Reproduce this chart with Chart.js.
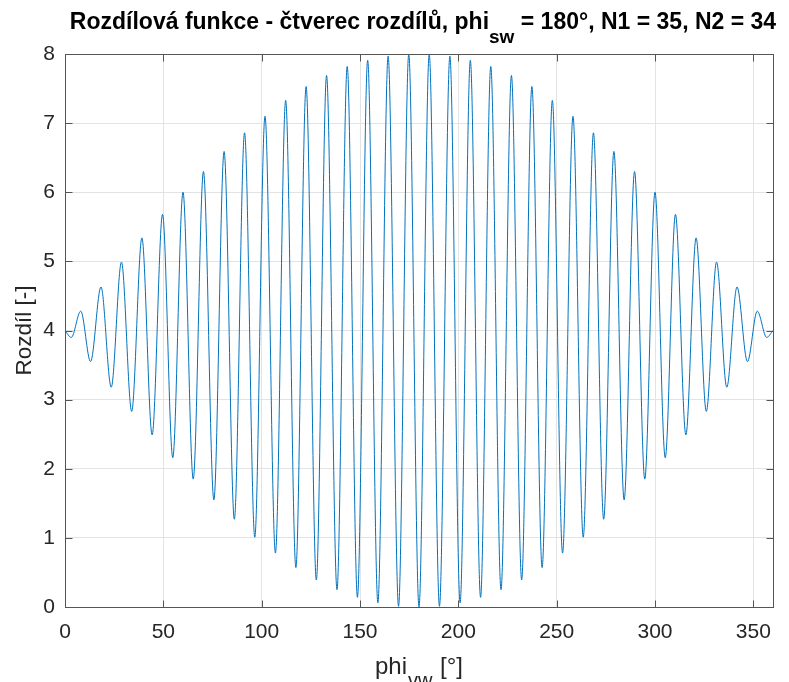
<!DOCTYPE html>
<html>
<head>
<meta charset="utf-8">
<script src="https://cdn.jsdelivr.net/npm/chart.js@4/dist/chart.umd.min.js"></script>
<style>
  body { margin: 0; background: #fff; }
</style>
</head>
<body>
<canvas id="rozdilChart" width="789" height="682"></canvas>
<script>
// extremes of the curve (phi_vw in degrees, value of the difference function)
const phiVw = [
    0, 3.2, 8.0, 13.0, 18.3, 23.5, 28.7, 33.9, 39.1, 44.3,
    49.6, 54.8, 60.0, 65.2, 70.4, 75.7, 80.9, 86.1, 91.3, 96.5,
    101.7, 107.0, 112.2, 117.4, 122.6, 127.8, 133.0, 138.3, 143.5, 148.7,
    153.9, 159.1, 164.3, 169.6, 174.8, 180.0,
    185.2, 190.4, 195.7, 200.9, 206.1, 211.3, 216.5, 221.7, 227.0, 232.2,
    237.4, 242.6, 247.8, 253.0, 258.3, 263.5, 268.7, 273.9, 279.1, 284.3,
    289.6, 294.8, 300.0, 305.2, 310.4, 315.7, 320.9, 326.1, 331.3, 336.5,
    341.7, 347.0, 352.0, 356.8, 360,
]
const rozdil = [
    4.00, 3.90, 4.28, 3.55, 4.63, 3.18, 4.99, 2.83, 5.34, 2.49,
    5.68, 2.16, 6.00, 1.85, 6.30, 1.55, 6.59, 1.27, 6.86, 1.01,
    7.10, 0.78, 7.33, 0.57, 7.53, 0.39, 7.69, 0.25, 7.82, 0.14,
    7.91, 0.06, 7.97, 0.01, 8.00, 0.00,
    8.00, 0.01, 7.97, 0.06, 7.91, 0.14, 7.82, 0.25, 7.69, 0.39,
    7.53, 0.57, 7.33, 0.78, 7.10, 1.01, 6.86, 1.27, 6.59, 1.55,
    6.30, 1.85, 6.00, 2.16, 5.68, 2.49, 5.34, 2.83, 4.99, 3.18,
    4.63, 3.55, 4.28, 3.90, 4.00,
]
const xTicks = [0, 50, 100, 150, 200, 250, 300, 350]
const yTicks = [0, 1, 2, 3, 4, 5, 6, 7, 8]

const FONT = '"Liberation Sans", Arial, Helvetica, sans-serif'
const TEXT = '#262626'

// draws text with subscript parts, centred on cx
function drawParts(ctx, parts, cx, baseline, size, subSize, subDrop, weight, gap) {
    let total = 0
    parts.forEach(p => {
        ctx.font = `${weight} ${p.sub ? subSize : size}px ${FONT}`
        p.w = ctx.measureText(p.t).width + (p.sub ? 2 * gap : 0)
        total += p.w
    })
    let x = cx - total / 2
    parts.forEach(p => {
        ctx.font = `${weight} ${p.sub ? subSize : size}px ${FONT}`
        ctx.fillText(p.t, x + (p.sub ? gap : 0), baseline + (p.sub ? subDrop : 0))
        x += p.w
    })
}

const matlabFrame = {
    id: 'matlabFrame',
    afterDraw(chart) {
        const { ctx, chartArea: a, scales: { x, y } } = chart
        ctx.save()
        ctx.strokeStyle = '#555'
        ctx.lineWidth = 1
        const l = Math.round(a.left) + 0.5, r = Math.round(a.right) + 0.5
        const t = Math.round(a.top) + 0.5, b = Math.round(a.bottom) + 0.5
        ctx.strokeRect(l, t, r - l, b - t)

        // inner ticks on all four sides
        ctx.beginPath()
        xTicks.forEach(v => {
            const px = Math.round(x.getPixelForValue(v)) + 0.5
            ctx.moveTo(px, b); ctx.lineTo(px, b - 7)
            ctx.moveTo(px, t); ctx.lineTo(px, t + 7)
        })
        yTicks.forEach(v => {
            const py = Math.round(y.getPixelForValue(v)) + 0.5
            ctx.moveTo(l, py); ctx.lineTo(l + 7, py)
            ctx.moveTo(r, py); ctx.lineTo(r - 7, py)
        })
        ctx.stroke()

        ctx.fillStyle = '#000'
        ctx.textBaseline = 'alphabetic'
        ctx.textAlign = 'left'
        const cx = (a.left + a.right) / 2
        drawParts(ctx, [
            { t: 'Rozdílová funkce - čtverec rozdílů, phi' },
            { t: 'sw', sub: true },
            { t: ' = 180°, N1 = 35, N2 = 34' },
        ], cx + 4, 29, 23, 19, 14, 'bold', 0)

        ctx.fillStyle = TEXT
        drawParts(ctx, [
            { t: 'phi' },
            { t: 'vw', sub: true },
            { t: ' [°]' },
        ], cx, 674, 24, 20, 13, 'normal', 1)

        ctx.translate(31, (a.top + a.bottom) / 2)
        ctx.rotate(-Math.PI / 2)
        ctx.textAlign = 'center'
        ctx.font = `22.5px ${FONT}`
        ctx.fillText('Rozdíl [-]', 0, 0)
        ctx.restore()
    },
}

new Chart(document.getElementById('rozdilChart').getContext('2d'), {
    type: 'line',
    data: {
        datasets: [
            {
                data: phiVw.map((v, i) => ({ x: v, y: rozdil[i] })),
                borderColor: '#0072BD',
                borderWidth: 1,
                pointRadius: 0,
                fill: false,
                cubicInterpolationMode: 'monotone',
            },
        ],
    },
    options: {
        responsive: false,
        animation: false,
        events: [],
        layout: { padding: { top: 54, right: 16, left: 0, bottom: 0 } },
        plugins: { legend: { display: false }, tooltip: { enabled: false } },
        scales: {
            x: {
                type: 'linear',
                min: 0,
                max: 360,
                afterBuildTicks: s => { s.ticks = xTicks.map(v => ({ value: v })) },
                afterFit: s => { s.height = 75 },
                grid: { color: '#e3e3e3', drawTicks: false },
                border: { display: false },
                ticks: { color: TEXT, font: { family: FONT, size: 21 }, padding: 13, maxRotation: 0 },
            },
            y: {
                min: 0,
                max: 8,
                afterBuildTicks: s => { s.ticks = yTicks.map(v => ({ value: v })) },
                afterFit: s => { s.width = 65 },
                grid: { color: '#e3e3e3', drawTicks: false },
                border: { display: false },
                ticks: { color: TEXT, font: { family: FONT, size: 21 }, padding: 10 },
            },
        },
    },
    plugins: [matlabFrame],
})
</script>
</body>
</html>
